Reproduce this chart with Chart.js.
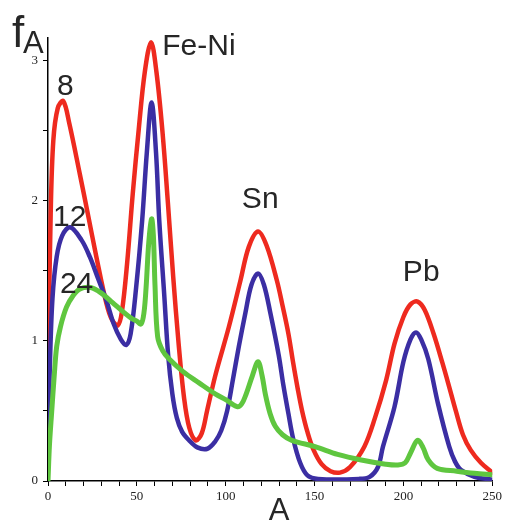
<!DOCTYPE html>
<html>
<head>
<meta charset="utf-8">
<script src="https://cdn.jsdelivr.net/npm/chart.js@4.4.1/dist/chart.umd.min.js"></script>
<style>
  html, body { margin: 0; padding: 0; background: #ffffff; }
  #wrap { width: 505px; height: 521px; position: relative; }
</style>
</head>
<body>
<div id="wrap"><canvas id="c"></canvas></div>
<script>
// ---- data ----
const redA = [0, 1.5, 3, 5.5, 8.6, 12, 17.9, 22.5, 27.2, 32.8, 36, 39.3, 41.5, 44.5, 47.7, 51, 54.5, 58, 61, 64.5, 67.5, 70.5, 73.5, 76.5, 79.5, 83.2, 86.5, 89.5, 94.3, 101.8, 108.3, 113, 118.2, 123, 128.8, 132, 135.3, 138, 140.5, 143, 146, 149.5, 154, 159, 164.3, 170, 178, 184, 190.3, 195, 200, 204, 208, 212, 217, 222, 225.8, 229.5, 233.5, 237.9, 243.6, 250];
const redF = [0.8, 1.9, 2.43, 2.66, 2.71, 2.55, 2.19, 1.9, 1.6, 1.27, 1.15, 1.11, 1.2, 1.55, 2.05, 2.5, 2.92, 3.13, 2.92, 2.48, 1.98, 1.45, 0.98, 0.6, 0.38, 0.29, 0.34, 0.5, 0.76, 1.1, 1.43, 1.67, 1.78, 1.68, 1.43, 1.25, 1.05, 0.84, 0.66, 0.5, 0.35, 0.22, 0.12, 0.07, 0.06, 0.1, 0.245, 0.45, 0.72, 0.98, 1.17, 1.26, 1.28, 1.22, 1.05, 0.84, 0.67, 0.5, 0.33, 0.22, 0.13, 0.06];

const blueA = [0, 1, 2.5, 4.9, 8, 12.5, 18.8, 23.5, 28, 32.8, 37, 41, 44, 46.5, 49.6, 53, 55.6, 58.3, 60.8, 62.6, 65.4, 67.6, 70, 72.5, 75.5, 79.4, 84, 89.7, 94, 97.5, 100.8, 104, 107.4, 111.1, 114.5, 118.2, 121.5, 125.1, 129.8, 132.5, 135.3, 138, 141.9, 146, 152, 175, 181, 185.7, 188.5, 195, 200, 204, 207.1, 210, 214, 219.5, 225.8, 229, 232.3, 240, 250];
const blueF = [0.3, 0.8, 1.3, 1.6, 1.75, 1.81, 1.72, 1.6, 1.45, 1.29, 1.12, 1.01, 0.97, 1.05, 1.38, 1.86, 2.34, 2.7, 2.34, 1.86, 1.33, 0.9, 0.62, 0.45, 0.35, 0.29, 0.24, 0.23, 0.28, 0.36, 0.5, 0.72, 0.96, 1.2, 1.4, 1.48, 1.4, 1.2, 0.9, 0.68, 0.48, 0.3, 0.13, 0.04, 0.015, 0.015, 0.03, 0.1, 0.245, 0.53, 0.85, 1.01, 1.06, 1.01, 0.87, 0.55, 0.245, 0.14, 0.08, 0.03, 0.01];

const greenA = [0, 0.8, 2, 3.5, 4.9, 7, 10.4, 14, 18, 24, 30, 36.5, 42, 47, 50, 52.4, 54, 55.2, 56.7, 58.3, 59.3, 60.2, 61.7, 64.5, 68.2, 76, 85, 94.3, 100, 106.4, 109, 111.5, 115, 118.2, 120.5, 122.3, 125, 127.9, 132, 137.2, 150.3, 163, 176.3, 190, 196.9, 201, 204, 208, 211, 214, 219, 230, 240, 250];
const greenF = [0, 0.25, 0.48, 0.75, 0.96, 1.1, 1.24, 1.32, 1.37, 1.38, 1.34, 1.27, 1.21, 1.16, 1.14, 1.12, 1.2, 1.38, 1.7, 1.87, 1.75, 1.4, 1.03, 0.93, 0.87, 0.78, 0.7, 0.62, 0.58, 0.53, 0.55, 0.62, 0.75, 0.85, 0.75, 0.62, 0.48, 0.39, 0.33, 0.29, 0.245, 0.19, 0.15, 0.12, 0.114, 0.13, 0.2, 0.29, 0.24, 0.15, 0.09, 0.07, 0.055, 0.045];

const xTickValues = [0, 10, 20, 30, 40, 50, 60, 70, 80, 90, 100, 110, 120, 130, 140, 150, 160, 170, 180, 190, 200, 210, 220, 230, 240, 250];
const yTickValues = [0, 0.5, 1, 1.5, 2, 2.5, 3];

// curve labels: text, A at left edge, f at baseline
const curveLabels = [
  { text: "8", a: 5.0, f: 2.75 },
  { text: "12", a: 2.8, f: 1.82 },
  { text: "24", a: 6.7, f: 1.34 },
  { text: "Fe-Ni", a: 64.3, f: 3.04 },
  { text: "Sn", a: 109.1, f: 1.95 },
  { text: "Pb", a: 199.7, f: 1.43 }
];

function pts(xs, ys) { return xs.map((x, i) => ({ x: x, y: ys[i] })); }

const labelPlugin = {
  id: 'labels',
  afterDraw(chart) {
    const ctx = chart.ctx;
    const xs = chart.scales.x, ys = chart.scales.y;
    ctx.save();
    ctx.fillStyle = '#262626';
    ctx.textAlign = 'left';
    ctx.textBaseline = 'alphabetic';
    ctx.font = '30px "Liberation Sans", Arial, sans-serif';
    curveLabels.forEach(l => {
      ctx.fillText(l.text, xs.getPixelForValue(l.a), ys.getPixelForValue(l.f));
    });
    // y axis title f_A
    ctx.font = '44px "Liberation Sans", Arial, sans-serif';
    ctx.fillText('f', 12, 47);
    ctx.font = '31px "Liberation Sans", Arial, sans-serif';
    ctx.fillText('A', 23, 53);
    // x axis title
    ctx.textAlign = 'center';
    ctx.font = '31px "Liberation Sans", Arial, sans-serif';
    ctx.fillText('A', 279, 520);
    ctx.restore();
  }
};

const tickFont = { family: '"Liberation Serif", "Times New Roman", serif', size: 13 };

new Chart(document.getElementById('c'), {
  type: 'line',
  data: {
    datasets: [
      { label: '24', data: pts(greenA, greenF), borderColor: '#5fc63f', borderWidth: 5, order: 0 },
      { label: '12', data: pts(blueA, blueF), borderColor: '#3b2ea3', borderWidth: 4.5, order: 1 },
      { label: '8', data: pts(redA, redF), borderColor: '#ee2a1f', borderWidth: 4.5, order: 2 }
    ]
  },
  options: {
    responsive: true,
    maintainAspectRatio: false,
    animation: false,
    events: [],
    layout: { padding: { top: 38, right: 10, left: 0, bottom: 0 } },
    elements: {
      point: { radius: 0 },
      line: { tension: 0.35, fill: false, borderCapStyle: 'round', borderJoinStyle: 'round' }
    },
    plugins: { legend: { display: false }, tooltip: { enabled: false } },
    scales: {
      x: {
        type: 'linear', min: 0, max: 250, position: 'bottom',
        afterFit(s) { s.height = 40; },
        afterBuildTicks(s) { s.ticks = xTickValues.map(v => ({ value: v })); },
        grid: { drawOnChartArea: false, drawTicks: true, tickLength: 5, color: '#000', lineWidth: 1 },
        border: { display: true, color: '#000', width: 1.5 },
        ticks: {
          autoSkip: false, maxRotation: 0, padding: 3, color: '#222', font: tickFont,
          callback: v => (v % 50 === 0 ? String(v) : '')
        }
      },
      y: {
        type: 'linear', min: 0, max: 3.16,
        afterFit(s) { s.width = 48; },
        afterBuildTicks(s) { s.ticks = yTickValues.map(v => ({ value: v })); },
        grid: { drawOnChartArea: false, drawTicks: true, tickLength: 5, color: '#000', lineWidth: 1 },
        border: { display: true, color: '#000', width: 1.5 },
        ticks: {
          autoSkip: false, padding: 5, color: '#222', font: tickFont,
          callback: v => (v % 1 === 0 ? String(v) : '')
        }
      }
    }
  },
  plugins: [labelPlugin]
});
</script>
</body>
</html>
